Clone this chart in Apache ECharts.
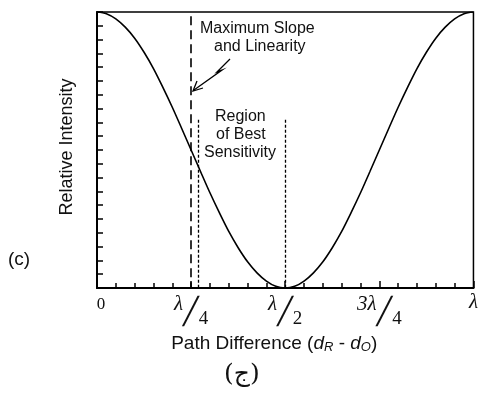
<!DOCTYPE html>
<html>
<head>
    <meta charset="utf-8">
    <title>Relative Intensity</title>
    <script src="https://cdn.jsdelivr.net/npm/echarts@6/dist/echarts.min.js"></script>
</head>
<body style="margin:0">
    <div id="main" style="width: 481px;height:400px;"></div>
</body>
<script type="text/javascript">
    // path difference, in units of lambda
    var pathDiff = [0, 0.025, 0.05, 0.075, 0.1, 0.125, 0.15, 0.175, 0.2, 0.225, 0.25,
        0.275, 0.3, 0.325, 0.35, 0.375, 0.4, 0.425, 0.45, 0.475, 0.5,
        0.525, 0.55, 0.575, 0.6, 0.625, 0.65, 0.675, 0.7, 0.725, 0.75,
        0.775, 0.8, 0.825, 0.85, 0.875, 0.9, 0.925, 0.95, 0.975, 1];
    // relative intensity
    var intensity = [1.0, 0.994, 0.975, 0.945, 0.905, 0.854, 0.795, 0.727, 0.655, 0.578, 0.5,
        0.422, 0.345, 0.273, 0.205, 0.146, 0.095, 0.055, 0.025, 0.006, 0.0,
        0.006, 0.025, 0.055, 0.095, 0.146, 0.205, 0.273, 0.345, 0.422, 0.5,
        0.578, 0.655, 0.727, 0.795, 0.854, 0.905, 0.945, 0.975, 0.994, 1.0];
    var tickLabels = ['{z|0}', '{n|λ}{s|╱}{d|4}', '{n|λ}{s|╱}{d|2}', '{n|3λ}{s|╱}{d|4}', '{n|λ}'];
    // marker lines: [x, top]
    var slopeLine = [0.25, 0.985];
    var regionLines = [[0.268, 0.61], [0.5, 0.61]];

    var serif = '"Liberation Serif", "DejaVu Serif", serif';
    var sans = '"Liberation Sans", Arial, sans-serif';

    var chart = echarts.init(document.getElementById('main'));
    chart.setOption({
        backgroundColor: '#fff',
        animation: false,
        grid: {
            left: 97,
            right: 2,
            top: 12,
            bottom: 112,
            show: true,
            borderColor: '#000',
            borderWidth: 1.5
        },
        xAxis: {
            type: 'value',
            min: 0,
            max: 1,
            interval: 0.25,
            name: 'Path Difference ({i|d}{sub|R} - {i|d}{sub|O})',
            nameLocation: 'middle',
            nameGap: 44,
            nameTextStyle: {
                fontFamily: sans,
                fontSize: 19,
                color: '#111',
                padding: [0, 22, 0, 0],
                rich: {
                    i: { fontFamily: sans, fontSize: 19, fontStyle: 'italic', color: '#111' },
                    sub: { fontFamily: sans, fontSize: 13, fontStyle: 'italic', color: '#111', padding: [8, 0, 0, 0] }
                }
            },
            axisLine: { lineStyle: { color: '#000', width: 2 } },
            axisTick: { inside: true, length: 7, lineStyle: { color: '#000', width: 1.5 } },
            minorTick: { show: true, splitNumber: 5, length: 5, lineStyle: { color: '#000', width: 1.5 } },
            splitLine: { show: false },
            axisLabel: {
                margin: 4,
                color: '#111',
                formatter: function (v) {
                    return tickLabels[Math.round(v * 4)];
                },
                rich: {
                    z: { fontFamily: serif, fontSize: 17, color: '#111', padding: [4, 0, 0, 8] },
                    n: { fontFamily: serif, fontSize: 21, fontStyle: 'italic', color: '#111', padding: [0, 0, 12, 0] },
                    s: { fontFamily: '"DejaVu Sans Mono", "DejaVu Sans", monospace', fontSize: 26, color: '#111', padding: [6, 0, 0, 0] },
                    d: { fontFamily: serif, fontSize: 19, color: '#111', padding: [18, 0, 0, 0] }
                }
            }
        },
        yAxis: {
            type: 'value',
            min: 0,
            max: 1,
            interval: 0.05,
            name: 'Relative Intensity',
            nameLocation: 'middle',
            nameGap: 21,
            nameTextStyle: { fontFamily: sans, fontSize: 18, color: '#111', padding: [0, 0, 0, 6] },
            axisLine: { show: true, lineStyle: { color: '#000', width: 2 } },
            axisTick: { inside: true, length: 6, lineStyle: { color: '#000', width: 1.5 } },
            axisLabel: { show: false },
            splitLine: { show: false }
        },
        graphic: [
            {
                type: 'text', left: 200, top: 21,
                style: { text: 'Maximum Slope', font: '16px ' + sans, fill: '#111' }
            },
            {
                type: 'text', left: 214, top: 39,
                style: { text: 'and Linearity', font: '16px ' + sans, fill: '#111' }
            },
            {
                type: 'text', left: 215, top: 109,
                style: { text: 'Region', font: '16px ' + sans, fill: '#111' }
            },
            {
                type: 'text', left: 216, top: 127,
                style: { text: 'of Best', font: '16px ' + sans, fill: '#111' }
            },
            {
                type: 'text', left: 204, top: 145,
                style: { text: 'Sensitivity', font: '16px ' + sans, fill: '#111' }
            },
            {
                type: 'polyline',
                shape: { points: [[230, 59], [217, 72], [222, 70], [194, 90]] },
                style: { stroke: '#000', lineWidth: 1.3, fill: null }
            },
            {
                type: 'polyline',
                shape: { points: [[197, 81], [193, 91], [203, 88]] },
                style: { stroke: '#000', lineWidth: 1.3, fill: null }
            },
            {
                type: 'text', left: 8, top: 250,
                style: { text: '(c)', font: '19px ' + sans, fill: '#111' }
            },
            {
                type: 'text', left: 224, top: 362,
                style: { text: '(ج)', font: '25px "DejaVu Serif", "DejaVu Sans", serif', fill: '#111' }
            }
        ],
        series: [{
            type: 'line',
            data: pathDiff.map(function (x, i) { return [x, intensity[i]]; }),
            smooth: 0.3,
            showSymbol: false,
            lineStyle: { color: '#000', width: 1.6 },
            markLine: {
                silent: true,
                symbol: ['none', 'none'],
                label: { show: false },
                data: [
                    [{ coord: [slopeLine[0], slopeLine[1]], lineStyle: { type: [9, 5], width: 1.6, color: '#000' } },
                     { coord: [slopeLine[0], 0] }],
                    [{ coord: [regionLines[0][0], regionLines[0][1]], lineStyle: { type: [3, 2], width: 1.3, color: '#000' } },
                     { coord: [regionLines[0][0], 0] }],
                    [{ coord: [regionLines[1][0], regionLines[1][1]], lineStyle: { type: [3, 2], width: 1.3, color: '#000' } },
                     { coord: [regionLines[1][0], 0] }]
                ]
            }
        }]
    });
</script>
</html>
